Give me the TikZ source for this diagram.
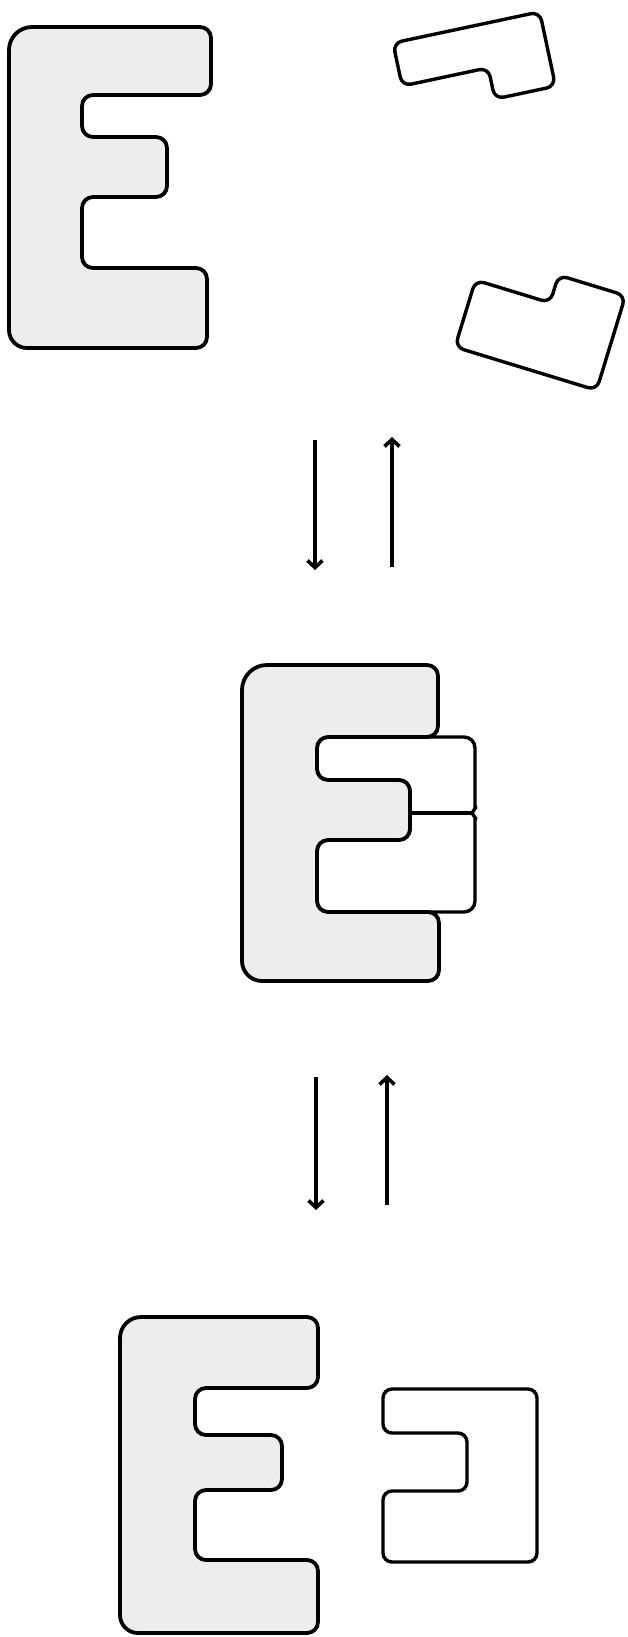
\documentclass[tikz,border=0pt]{standalone}
\usetikzlibrary{arrows.meta}
\tikzset{
  eshape/.style={draw=black, line width=3.8pt, fill=black!7, line join=round, rounded corners=11pt},
  piece/.style={draw=black, line width=3.4pt, fill=white, line join=round, rounded corners=9pt},
  divider/.style={draw=black, line width=3.4pt, line cap=round},
  arr/.style={draw=black, line width=3.6pt, -{Straight Barb[length=7pt,width=15pt]}}
}
\begin{document}
\begin{tikzpicture}[x=1pt,y=-1pt]
\useasboundingbox (0,0) rectangle (627,1637);

% ---------- top panel ----------
\draw[eshape, rounded corners=23pt] (9,200) -- (9,27) [rounded corners=11pt] -- (211,27) -- (211,95) -- (82,95) -- (82,137)
  -- (167,137) -- (167,197) -- (82,197) -- (82,268) -- (207,268) -- (207,348)
  [rounded corners=18pt] -- (9,348) [rounded corners=11pt] -- cycle;

\begin{scope}[shift={(393,43)}, rotate=12]
  \draw[piece] (0,22) -- (0,0) -- (150,0) -- (150,76) -- (88,76) -- (88,44) -- (0,44) -- cycle;
\end{scope}

\begin{scope}[shift={(455,347)}, rotate=-17]
  \draw[piece] (0,-30) -- (0,0) -- (148,0) -- (148,-99) -- (78,-99) -- (78,-70) -- (0,-70) -- cycle;
\end{scope}

% ---------- arrows 1 ----------
\coordinate (d1s) at (315,440);
\coordinate (d1e) at (315,570);
\coordinate (u1s) at (392,567);
\coordinate (u1e) at (392,437);
\draw[arr] (d1s) -- (d1e);
\draw[arr] (u1s) -- (u1e);

% ---------- middle panel ----------
\draw[piece, rounded corners=11pt] (317,760) -- (317,737) -- (475,737) -- (475,912) -- (317,912) -- (317,840)
  -- (410,840) -- (410,780) -- (317,780) -- cycle;
\draw[eshape, rounded corners=25pt] (242,800) -- (242,665) [rounded corners=11pt] -- (438,665) -- (438,737) -- (317,737) -- (317,780)
  -- (410,780) -- (410,840) -- (317,840) -- (317,912) -- (439,912) -- (439,981)
  [rounded corners=20pt] -- (242,981) [rounded corners=11pt] -- cycle;
\coordinate (dvl) at (410,813);
\coordinate (dvr) at (472,813);
\fill[white] (478,808) -- (472,813) -- (478,818) -- cycle;
\draw[divider] (dvl) -- (dvr);
\draw[divider, line join=round] (476,807) -- (dvr) -- (476,819);

% ---------- arrows 2 ----------
\coordinate (d2s) at (316,1077);
\coordinate (d2e) at (316,1210);
\coordinate (u2s) at (387,1205);
\coordinate (u2e) at (387,1075);
\draw[arr] (d2s) -- (d2e);
\draw[arr] (u2s) -- (u2e);

% ---------- bottom panel ----------
\draw[eshape, rounded corners=21pt] (120,1470) -- (120,1317) [rounded corners=11pt] -- (318,1317) -- (318,1388) -- (195,1388) -- (195,1435)
  -- (282,1435) -- (282,1490) -- (195,1490) -- (195,1560) -- (318,1560) -- (318,1633)
  [rounded corners=18pt] -- (120,1633) [rounded corners=11pt] -- cycle;
\draw[piece] (460,1389) -- (537,1389) -- (537,1562) -- (383,1562) -- (383,1491) -- (467,1491)
  -- (467,1433) -- (383,1433) -- (383,1389) -- cycle;
\end{tikzpicture}
\end{document}
